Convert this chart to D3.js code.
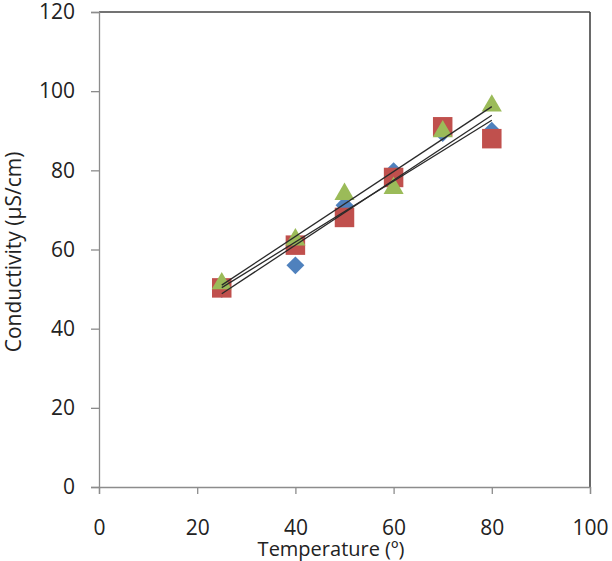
<!DOCTYPE html>
<html>
<head>
<meta charset="utf-8">
<script src="https://cdn.jsdelivr.net/npm/d3@7"></script>
<style>
  body { margin: 0; background: #fff; }
  text { font-family: "Open Sans", "Liberation Sans", sans-serif; fill: #222; }
</style>
</head>
<body>
<svg id="chart" width="612" height="561"></svg>
<script>
// temperatures (x) shared by all three series
var temps = [25, 40, 50, 60, 70, 80];
// conductivity readings, one list per series
var seriesA = [50, 56, 71.2, 79.8, 89.4, 90];     // blue diamonds
var seriesB = [50.3, 61.1, 68.1, 78.2, 91, 88];   // red squares
var seriesC = [51.4, 62.5, 74, 75.5, 89.8, 96.3]; // green triangles
var xTicks = [0, 20, 40, 60, 80, 100];
var yTicks = [0, 20, 40, 60, 80, 100, 120];

var svg = d3.select("#chart"),
    PLOT_L = 99, PLOT_R = 590, PLOT_T = 12, PLOT_B = 487;

var x = d3.scaleLinear().domain([0, 100]).range([PLOT_L, PLOT_R]);
var y = d3.scaleLinear().domain([0, 120]).range([PLOT_B, PLOT_T]);

// frame: top and right dark, left and bottom grey axis lines
svg.append("line").attr("x1", PLOT_L).attr("x2", PLOT_R).attr("y1", PLOT_T).attr("y2", PLOT_T)
    .attr("stroke", "#444").attr("stroke-width", 1.6);
svg.append("line").attr("x1", PLOT_R).attr("x2", PLOT_R).attr("y1", PLOT_T).attr("y2", PLOT_B)
    .attr("stroke", "#444").attr("stroke-width", 1.6);

var xAxis = svg.append("g")
    .attr("transform", "translate(0," + PLOT_B + ")")
    .call(d3.axisBottom(x).tickValues(xTicks).tickSize(7).tickPadding(26));
var yAxis = svg.append("g")
    .attr("transform", "translate(" + PLOT_L + ",0)")
    .call(d3.axisLeft(y).tickValues(yTicks).tickSize(8).tickPadding(16));

[xAxis, yAxis].forEach(function (ax) {
    ax.select(".domain").attr("stroke", "#8c8c8c").attr("stroke-width", 1.3);
    ax.selectAll(".tick line").attr("stroke", "#8c8c8c").attr("stroke-width", 1.3);
    ax.selectAll(".tick text").style("font-size", "21px").attr("fill", "#222");
});

svg.append("text")
    .attr("x", 331).attr("y", 556)
    .attr("text-anchor", "middle")
    .style("font-size", "20px")
    .text("Temperature (º)");

svg.append("text")
    .attr("transform", "translate(21,252) rotate(-90)")
    .attr("text-anchor", "middle")
    .style("font-size", "21px")
    .text("Conductivity (µS/cm)");

var series = [
    {values: seriesA, color: "#4F81BD", shape: d3.symbolSquare, size: 160, rotate: 45},
    {values: seriesB, color: "#C0504D", shape: d3.symbolSquare, size: 380, rotate: 0},
    {values: seriesC, color: "#9BBB59", shape: d3.symbolTriangle, size: 175, rotate: 0}
];

// markers
series.forEach(function (s) {
    svg.append("g").selectAll("path")
        .data(temps.map(function (t, i) { return [t, s.values[i]]; }))
        .enter().append("path")
        .attr("d", d3.symbol().type(s.shape).size(s.size))
        .attr("transform", function (d) {
            return "translate(" + x(d[0]) + "," + y(d[1]) + ") rotate(" + s.rotate + ")";
        })
        .attr("fill", s.color);
});

// least squares trend line for each series
function fit(xs, ys) {
    var mx = d3.mean(xs), my = d3.mean(ys), num = 0, den = 0;
    xs.forEach(function (v, i) {
        num += (v - mx) * (ys[i] - my);
        den += (v - mx) * (v - mx);
    });
    var b = num / den;
    return {b: b, a: my - b * mx};
}

series.forEach(function (s) {
    var f = fit(temps, s.values),
        x0 = d3.min(temps), x1 = d3.max(temps);
    svg.append("line")
        .attr("x1", x(x0)).attr("y1", y(f.a + f.b * x0))
        .attr("x2", x(x1)).attr("y2", y(f.a + f.b * x1))
        .attr("stroke", "#2a2a2a").attr("stroke-width", 1.3);
});
</script>
</body>
</html>
